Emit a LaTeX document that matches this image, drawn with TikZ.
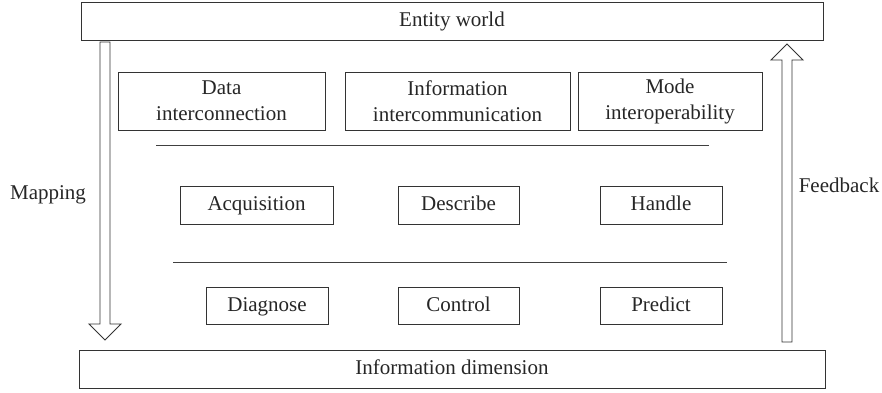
\documentclass[tikz,border=0pt]{standalone}
\usepackage{fontspec}
\setmainfont{Liberation Serif}
\newfontfamily\diagfont{Liberation Serif}
\begin{document}
\begin{tikzpicture}[x=1pt,y=-1pt,
  lbl/.style={font=\diagfont\fontsize{21}{26}\selectfont, text=black!85},
  box/.style={lbl, draw=black!80, line width=0.9pt, inner sep=0pt, align=center, rectangle},
  one/.style={text height=15pt, text depth=4pt},
  sep/.style={draw=black!75, line width=1pt},
  bigarrow/.style={draw=black!80, line width=0.9pt, fill=white, line join=miter}]
\useasboundingbox (0,0) rectangle (882,392);
% top and bottom bars
\node[box, one, minimum width=742pt, minimum height=38pt] (top) at (452,21) {Entity world};
\node[box, one, minimum width=746pt, minimum height=38pt] (bot) at (452,369) {Information dimension};
% first row
\node[box, minimum width=207pt, minimum height=58pt] (data) at (221.5,101) {Data\\interconnection};
\node[box, minimum width=225pt, minimum height=58pt] (info) at (457.5,101) {Information\\intercommunication};
\node[box, minimum width=184pt, minimum height=58pt] (mode) at (670,101) {Mode\\interoperability};
% separators
\coordinate (s1a) at (156,145); \coordinate (s1b) at (709,145);
\draw[sep] (s1a) -- (s1b);
\coordinate (s2a) at (173,262); \coordinate (s2b) at (727,262);
\draw[sep] (s2a) -- (s2b);
% second row
\node[box, one, minimum width=153pt, minimum height=38pt] (acq) at (256.5,205) {Acquisition};
\node[box, one, minimum width=121pt, minimum height=38pt] (desc) at (458.5,205) {Describe};
\node[box, one, minimum width=122pt, minimum height=38pt] (hand) at (661,205) {Handle};
% third row
\node[box, one, minimum width=122pt, minimum height=37pt] (diag) at (267,305.5) {Diagnose};
\node[box, one, minimum width=121pt, minimum height=37pt] (ctrl) at (458.5,305.5) {Control};
\node[box, one, minimum width=122pt, minimum height=37pt] (pred) at (661,305.5) {Predict};
% mapping arrow (down)
\draw[bigarrow] (100,42) -- (110,42) -- (110,324) -- (121,324) -- (105,340) -- (89,324) -- (100,324) -- cycle;
% feedback arrow (up)
\draw[bigarrow] (782,342) -- (792,342) -- (792,60) -- (803,60) -- (787,44) -- (771,60) -- (782,60) -- cycle;
% side labels
\node[lbl, one] (map) at (48,194) {Mapping};
\node[lbl, one] (feed) at (839,187) {Feedback};
\end{tikzpicture}
\end{document}
